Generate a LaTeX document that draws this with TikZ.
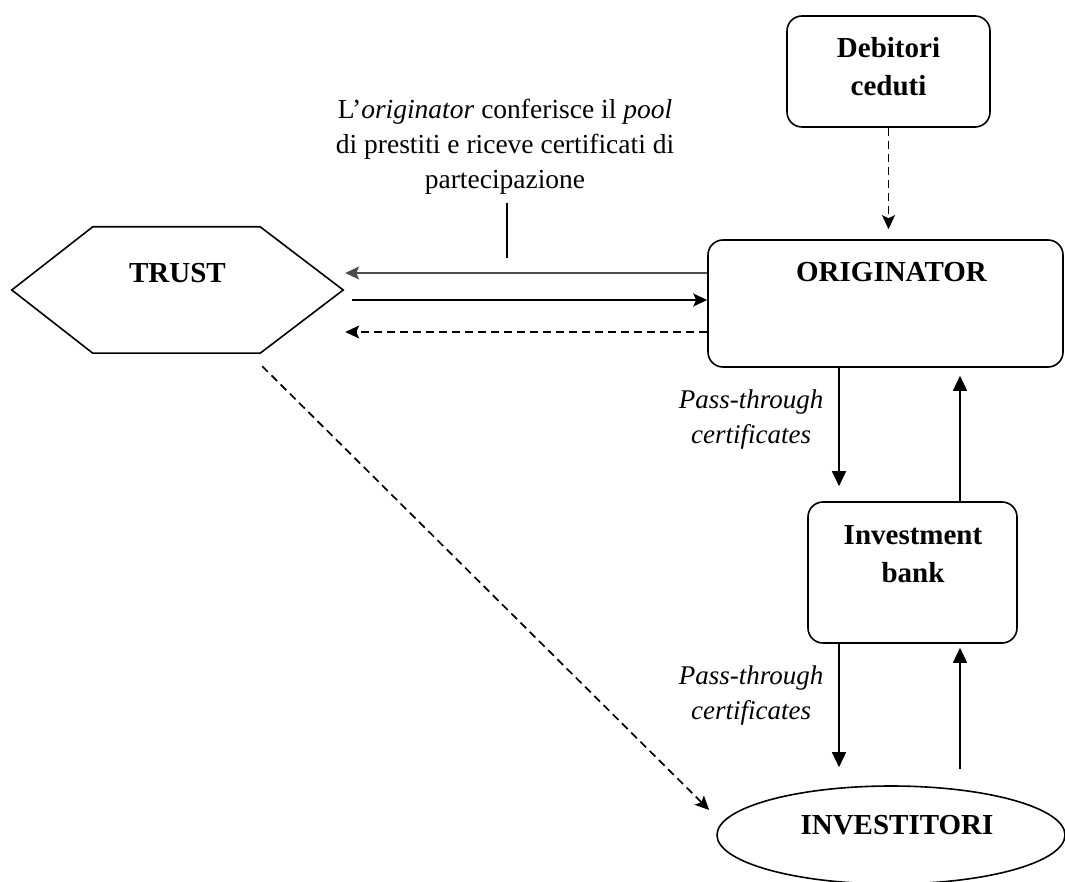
\documentclass[tikz,border=0pt]{standalone}
\usepackage{fontspec}
\setmainfont{Liberation Serif}
\usetikzlibrary{arrows.meta,shapes.geometric,calc}

\begin{document}
\begin{tikzpicture}[x=1pt,y=-1pt,
  box/.style={draw, rounded corners=15pt, line width=1.6pt, inner sep=0pt},
  title/.style={font=\fontsize{29}{38}\selectfont\bfseries, align=center, inner sep=0pt},
  note/.style={font=\fontsize{27.5}{35}\selectfont, align=center, inner sep=0pt},
  itnote/.style={font=\fontsize{27}{35}\selectfont\itshape, align=center, inner sep=0pt},
  flow/.style={line width=1.6pt, -{Triangle[length=15pt,width=14pt]}},
  link/.style={line width=1.7pt, -{Stealth[length=14pt,width=13pt,inset=3pt]}},
  dlink/.style={link, dash pattern=on 8pt off 5pt}]

% canvas
\fill[white] (0,0) rectangle (1065,882);
\useasboundingbox (0,0) rectangle (1065,882);

% trust (hexagon)
\node[minimum width=331pt, minimum height=126pt, inner sep=0pt] (trust) at (177.5,290) {};
\draw[line width=1.6pt] (trust.west) -- ($(trust.north west)+(81,0)$) -- ($(trust.north east)+(-83,0)$)
  -- (trust.east) -- ($(trust.south east)+(-83,0)$) -- ($(trust.south west)+(81,0)$) -- cycle;
\node[title] (trusttxt) at ($(trust.center)+(0,-17)$) {TRUST};

% debitori ceduti
\node[box, minimum width=203pt, minimum height=111pt] (deb) at (888.5,71.5) {};
\node[title] (debtxt) at (888.5,67) {Debitori\\ceduti};

% originator
\node[box, minimum width=355pt, minimum height=127pt] (orig) at (885.5,303.5) {};
\node[title] (origtxt) at ($(orig.north)+(6,33)$) {ORIGINATOR};

% investment bank
\node[box, minimum width=209pt, minimum height=141pt] (ib) at (912.5,572.5) {};
\node[title] (ibtxt) at (913,554) {Investment\\bank};

% investitori
\node[draw, ellipse, line width=1.6pt, minimum width=348pt, minimum height=98pt, inner sep=0pt] (inv) at (891,835) {};
\node[title] (invtxt) at (897,825) {INVESTITORI};

% labels
\node[note] (lab) at (505,147) {L'\textit{originator} conferisce il \textit{pool}\\di prestiti e riceve certificati di\\partecipazione};
\node[itnote] (pt1) at (751,420) {Pass-through\\certificates};
\node[itnote] (pt2) at (751,696) {Pass-through\\certificates};

% debitori -> originator
\draw[dlink, shorten >=10pt] (deb.south) -- (deb.south |- orig.north);

% originator <-> trust
\draw[link, draw=black!70, shorten >=2pt] ($(orig.west)+(0,-30.5)$) coordinate (h1) -- (h1 -| trust.east);
\draw[link] ($(trust.east)+(9,10)$) coordinate (h2) -- (h2 -| orig.west);
\draw[dlink, shorten >=2pt] ($(orig.west)+(0,28.5)$) coordinate (h3) -- (h3 -| trust.east);

% label pointer
\coordinate (lt) at ($(lab.south)+(2,8)$);
\draw[line width=1.4pt, shorten >=15pt] (lt) -- (lt |- h1);

% originator <-> investment bank
\coordinate (d1) at ($(orig.south)+(-46.5,0)$);
\coordinate (u1) at ($(ib.north)+(47.5,0)$);
\draw[flow, shorten >=15pt] (d1) -- (d1 |- ib.north);
\draw[flow, shorten >=8pt] (u1) -- (u1 |- orig.south);

% investment bank <-> investitori
\coordinate (d2) at (d1 |- ib.south);
\coordinate (u2) at (u1 |- ib.south);
\draw[flow, shorten >=18pt] (d2) -- (d2 |- inv.north);
\draw[flow, shorten <=16pt, shorten >=4pt] (u2 |- inv.north) -- (u2);

% trust -> investitori
\draw[dlink] ($(trust.south east)+(-81,13)$) -- ($(inv.west)+(-7,-25)$);
\end{tikzpicture}
\end{document}
